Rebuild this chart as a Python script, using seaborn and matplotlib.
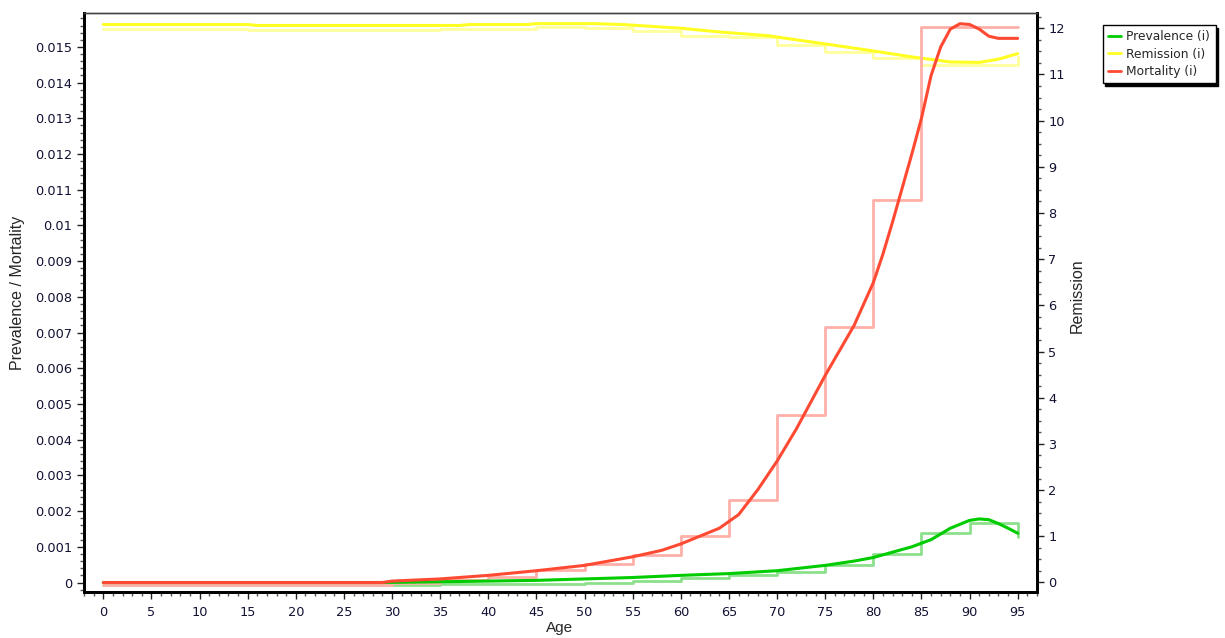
import numpy as np
import pandas as pd
import matplotlib
matplotlib.use("Agg")
import matplotlib.pyplot as plt
from matplotlib.ticker import MultipleLocator, FuncFormatter
from matplotlib.lines import Line2D
import seaborn as sns

# --- data ---
# smooth (model) curves, key ages
prev_ages = [0, 29, 35, 40, 45, 50, 55, 60, 65, 70, 75, 78, 80, 82, 84, 86, 88, 90, 91, 92, 93, 94, 95]
prev_vals = [0, 0, 0.00002, 0.00004, 0.00006, 0.0001, 0.00014, 0.0002, 0.00025, 0.00033, 0.00048,
             0.0006, 0.0007, 0.00085, 0.001, 0.0012, 0.00152, 0.00174, 0.00178, 0.00176, 0.00165,
             0.00152, 0.00138]

mort_ages = [0, 29, 30, 35, 40, 45, 50, 55, 58, 60, 62, 64, 66, 68, 69, 70, 72, 73, 75, 78, 80,
             81, 82, 84, 85, 86, 87, 88, 89, 90, 91, 92, 93, 95]
mort_vals = [0, 0, 0.00004, 0.0001, 0.0002, 0.00033, 0.00048, 0.00072, 0.0009, 0.00108, 0.0013,
             0.00152, 0.0019, 0.0026, 0.003, 0.0034, 0.0043, 0.0048, 0.0058, 0.0072, 0.0084,
             0.0092, 0.0101, 0.012, 0.013, 0.0142, 0.015, 0.0155, 0.01565, 0.01563, 0.0155,
             0.0153, 0.01524, 0.01524]

rem_ages = [0, 15, 16, 37, 38, 44, 45, 51, 54, 57, 60, 64, 69, 74, 79, 84, 88, 91, 93, 95]
rem_vals = [12.08, 12.08, 12.06, 12.06, 12.08, 12.08, 12.1, 12.1, 12.08, 12.04, 12.0, 11.92,
            11.84, 11.69, 11.54, 11.38, 11.27, 11.26, 11.33, 11.45]

# input data in 5-year age groups (start age of group)
group_ages = list(range(0, 100, 5))
prev_input = [-0.00007, -0.00007, -0.00007, -0.00007, -0.00007, -0.00007, -0.00007, -0.00004,
              -0.00003, -0.00003, 0.0, 0.00004, 0.00013, 0.0002, 0.0003, 0.0005, 0.0008,
              0.0014, 0.00166, 0.00127]
mort_input = [-0.00007, -0.00007, -0.00007, -0.00007, -0.00007, -0.00007, 0.0, 0.00007,
              0.00016, 0.00034, 0.00053, 0.00077, 0.00129, 0.0023, 0.00468, 0.00715, 0.0107,
              0.01556, 0.01556, 0.01556]
rem_input = [11.99, 11.99, 11.99, 11.96, 11.96, 11.96, 11.96, 11.99, 11.99, 12.02, 12.0, 11.94,
             11.83, 11.8, 11.63, 11.49, 11.35, 11.2, 11.2, 11.38]

series_names = ["Prevalence (i)", "Remission (i)", "Mortality (i)"]

# --- styling ---
sns.set_style("white")
plt.rcParams['font.family'] = ['DejaVu Sans']

GREEN = "#00CC00"
YELLOW = "#FFFF22"
RED = "#FF4A33"
GREEN_L = "#8CE08C"
YELLOW_L = "#FFFF9C"
RED_L = "#FFB0A8"

fig = plt.figure(figsize=(12.25, 6.38), dpi=100)
ax = fig.add_axes([0.0686, 0.0721, 0.7779, 0.9075])
ax2 = ax.twinx()
ax.set_zorder(ax2.get_zorder() + 1)
ax.patch.set_visible(False)

# remission on the right axis
sns.lineplot(x=group_ages, y=rem_input, ax=ax2, color=YELLOW_L, lw=2, drawstyle="steps-post")
sns.lineplot(x=rem_ages, y=rem_vals, ax=ax2, color=YELLOW, lw=2.2)

# prevalence / mortality on the left axis
sns.lineplot(x=group_ages, y=prev_input, ax=ax, color=GREEN_L, lw=2, drawstyle="steps-post")
sns.lineplot(x=group_ages, y=mort_input, ax=ax, color=RED_L, lw=2, drawstyle="steps-post")
sns.lineplot(x=prev_ages, y=prev_vals, ax=ax, color=GREEN, lw=2.2)
sns.lineplot(x=mort_ages, y=mort_vals, ax=ax, color=RED, lw=2.2)

ax.set_xlim(-2, 97)
ax.set_ylim(-0.000266, 0.01595)
ax2.set_ylim(-0.206, 12.33)

ax.xaxis.set_major_locator(MultipleLocator(5))
ax.xaxis.set_minor_locator(MultipleLocator(1))
ax.yaxis.set_major_locator(MultipleLocator(0.001))
ax.yaxis.set_minor_locator(MultipleLocator(0.0002))
ax.yaxis.set_major_formatter(FuncFormatter(lambda v, p: f"{round(v, 4):g}"))
ax2.yaxis.set_major_locator(MultipleLocator(1))
ax2.yaxis.set_minor_locator(MultipleLocator(0.25))

for a in (ax, ax2):
    a.tick_params(which="major", direction="out", length=5, width=1, color="#222222",
                  labelsize=9.3, labelcolor="#111133")
    a.tick_params(which="minor", direction="out", length=3, width=1, color="#555555")
ax.tick_params(axis="both", which="both", bottom=True, left=True)
ax2.tick_params(axis="y", which="both", right=True, pad=3)
ax.tick_params(axis="x", pad=5)

for a in (ax, ax2):
    for side in ("left", "bottom", "right"):
        a.spines[side].set_linewidth(2)
        a.spines[side].set_color("black")
    a.spines["top"].set_linewidth(1)
    a.spines["top"].set_color("#444444")

lab_font = dict(family="Liberation Sans", size=11.5)
ax.set_xlabel("Age", family="Liberation Sans", size=11)
ax.set_ylabel("Prevalence / Mortality", **lab_font)
ax2.set_ylabel("Remission", **lab_font)
ax.xaxis.set_label_coords(0.4995, -0.05)
ax.yaxis.set_label_coords(-0.062, 0.516)
ax2.yaxis.set_label_coords(1.034, 0.511)

handles = [Line2D([], [], color=c, lw=2) for c in (GREEN, YELLOW, RED)]
leg = fig.legend(handles, series_names, loc="upper left", bbox_to_anchor=(0.9, 0.961),
                 frameon=True, fancybox=False, shadow={"color": "black", "alpha": 1},
                 edgecolor="black", framealpha=1, fontsize=8.8, handlelength=1.1,
                 handletextpad=0.4, borderpad=0.45, labelspacing=0.35, borderaxespad=0)
leg.get_frame().set_linewidth(1)

fig.savefig("out.png", dpi=100)
